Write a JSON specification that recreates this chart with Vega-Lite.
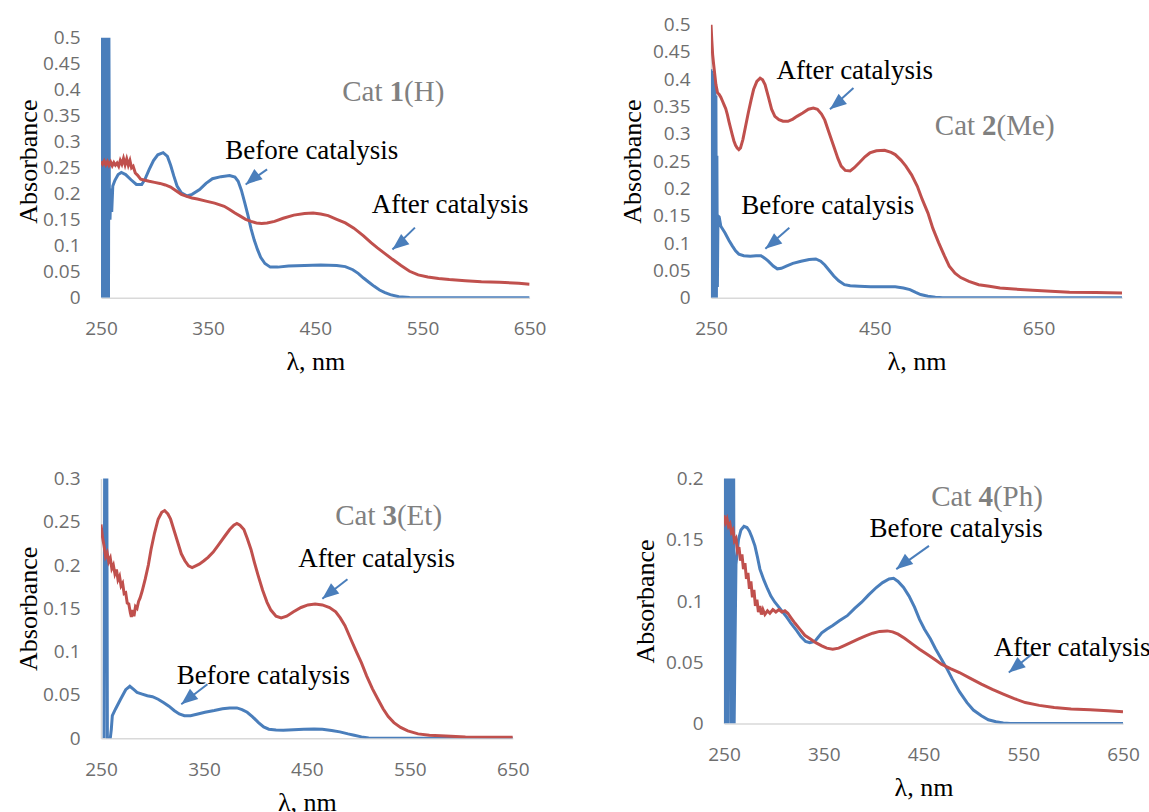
{
"$schema": "https://vega.github.io/schema/vega-lite/v6.json",
"padding": {"left": 15, "top": 15.5, "right": 0, "bottom": 0},
"datasets": {
"spec": [
{"p":1,"s":"B","x":250,"y":0},{"p":1,"s":"B","x":250.5,"y":0.5},{"p":1,"s":"B","x":251,"y":0},{"p":1,"s":"B","x":251.5,"y":0.5},{"p":1,"s":"B","x":252,"y":0},{"p":1,"s":"B","x":252.5,"y":0.5},{"p":1,"s":"B","x":253,"y":0},{"p":1,"s":"B","x":253.5,"y":0.5},{"p":1,"s":"B","x":254,"y":0},{"p":1,"s":"B","x":254.5,"y":0.5},{"p":1,"s":"B","x":255,"y":0},{"p":1,"s":"B","x":255.5,"y":0.5},{"p":1,"s":"B","x":256,"y":0},{"p":1,"s":"B","x":256.5,"y":0.5},{"p":1,"s":"B","x":257,"y":0},{"p":1,"s":"B","x":257.4,"y":0.5},{"p":1,"s":"B","x":257.8,"y":0.2},{"p":1,"s":"B","x":258.4,"y":0.15},{"p":1,"s":"B","x":259.2,"y":0.21},{"p":1,"s":"B","x":260,"y":0.165},{"p":1,"s":"B","x":261,"y":0.215},{"p":1,"s":"B","x":263,"y":0.226},{"p":1,"s":"B","x":266,"y":0.237},{"p":1,"s":"B","x":269,"y":0.241},{"p":1,"s":"B","x":273,"y":0.237},{"p":1,"s":"B","x":278,"y":0.227},{"p":1,"s":"B","x":283,"y":0.218},{"p":1,"s":"B","x":288,"y":0.218},{"p":1,"s":"B","x":291,"y":0.228},{"p":1,"s":"B","x":295,"y":0.247},{"p":1,"s":"B","x":299,"y":0.264},{"p":1,"s":"B","x":303,"y":0.275},{"p":1,"s":"B","x":308,"y":0.279},{"p":1,"s":"B","x":312,"y":0.272},{"p":1,"s":"B","x":315,"y":0.255},{"p":1,"s":"B","x":318,"y":0.234},{"p":1,"s":"B","x":321,"y":0.215},{"p":1,"s":"B","x":325,"y":0.202},{"p":1,"s":"B","x":330,"y":0.196},{"p":1,"s":"B","x":335,"y":0.199},{"p":1,"s":"B","x":342,"y":0.208},{"p":1,"s":"B","x":348,"y":0.22},{"p":1,"s":"B","x":354,"y":0.229},{"p":1,"s":"B","x":362,"y":0.233},{"p":1,"s":"B","x":370,"y":0.235},{"p":1,"s":"B","x":375,"y":0.232},{"p":1,"s":"B","x":378,"y":0.224},{"p":1,"s":"B","x":381,"y":0.207},{"p":1,"s":"B","x":384,"y":0.184},{"p":1,"s":"B","x":387,"y":0.16},{"p":1,"s":"B","x":390,"y":0.133},{"p":1,"s":"B","x":393,"y":0.111},{"p":1,"s":"B","x":396,"y":0.093},{"p":1,"s":"B","x":399,"y":0.078},{"p":1,"s":"B","x":403,"y":0.066},{"p":1,"s":"B","x":408,"y":0.059},{"p":1,"s":"B","x":415,"y":0.059},{"p":1,"s":"B","x":425,"y":0.061},{"p":1,"s":"B","x":440,"y":0.062},{"p":1,"s":"B","x":455,"y":0.063},{"p":1,"s":"B","x":470,"y":0.062},{"p":1,"s":"B","x":478,"y":0.06},{"p":1,"s":"B","x":485,"y":0.054},{"p":1,"s":"B","x":490,"y":0.047},{"p":1,"s":"B","x":495,"y":0.038},{"p":1,"s":"B","x":500,"y":0.03},{"p":1,"s":"B","x":505,"y":0.022},{"p":1,"s":"B","x":510,"y":0.015},{"p":1,"s":"B","x":515,"y":0.01},{"p":1,"s":"B","x":520,"y":0.006},{"p":1,"s":"B","x":528,"y":0.002},{"p":1,"s":"B","x":538,"y":0.0005},{"p":1,"s":"B","x":550,"y":0},{"p":1,"s":"B","x":600,"y":0},{"p":1,"s":"B","x":650,"y":0},
{"p":1,"s":"A","x":250,"y":0.262},{"p":1,"s":"A","x":251.5,"y":0.257},{"p":1,"s":"A","x":253,"y":0.263},{"p":1,"s":"A","x":254.5,"y":0.256},{"p":1,"s":"A","x":256,"y":0.262},{"p":1,"s":"A","x":257.5,"y":0.255},{"p":1,"s":"A","x":259,"y":0.261},{"p":1,"s":"A","x":260.5,"y":0.254},{"p":1,"s":"A","x":262,"y":0.26},{"p":1,"s":"A","x":263.5,"y":0.255},{"p":1,"s":"A","x":265,"y":0.259},{"p":1,"s":"A","x":266.5,"y":0.253},{"p":1,"s":"A","x":268,"y":0.264},{"p":1,"s":"A","x":269.5,"y":0.257},{"p":1,"s":"A","x":271,"y":0.268},{"p":1,"s":"A","x":272.5,"y":0.256},{"p":1,"s":"A","x":274,"y":0.267},{"p":1,"s":"A","x":275.5,"y":0.255},{"p":1,"s":"A","x":277,"y":0.264},{"p":1,"s":"A","x":278.5,"y":0.25},{"p":1,"s":"A","x":280,"y":0.253},{"p":1,"s":"A","x":282,"y":0.24},{"p":1,"s":"A","x":284,"y":0.236},{"p":1,"s":"A","x":287,"y":0.228},{"p":1,"s":"A","x":291,"y":0.226},{"p":1,"s":"A","x":295,"y":0.224},{"p":1,"s":"A","x":300,"y":0.222},{"p":1,"s":"A","x":305,"y":0.22},{"p":1,"s":"A","x":310,"y":0.217},{"p":1,"s":"A","x":315,"y":0.213},{"p":1,"s":"A","x":320,"y":0.206},{"p":1,"s":"A","x":325,"y":0.199},{"p":1,"s":"A","x":330,"y":0.195},{"p":1,"s":"A","x":335,"y":0.192},{"p":1,"s":"A","x":340,"y":0.19},{"p":1,"s":"A","x":348,"y":0.186},{"p":1,"s":"A","x":356,"y":0.182},{"p":1,"s":"A","x":365,"y":0.176},{"p":1,"s":"A","x":370,"y":0.17},{"p":1,"s":"A","x":375,"y":0.163},{"p":1,"s":"A","x":380,"y":0.157},{"p":1,"s":"A","x":385,"y":0.151},{"p":1,"s":"A","x":390,"y":0.147},{"p":1,"s":"A","x":395,"y":0.144},{"p":1,"s":"A","x":400,"y":0.143},{"p":1,"s":"A","x":405,"y":0.144},{"p":1,"s":"A","x":412,"y":0.147},{"p":1,"s":"A","x":420,"y":0.153},{"p":1,"s":"A","x":430,"y":0.159},{"p":1,"s":"A","x":440,"y":0.162},{"p":1,"s":"A","x":448,"y":0.163},{"p":1,"s":"A","x":455,"y":0.161},{"p":1,"s":"A","x":462,"y":0.158},{"p":1,"s":"A","x":470,"y":0.151},{"p":1,"s":"A","x":478,"y":0.144},{"p":1,"s":"A","x":486,"y":0.134},{"p":1,"s":"A","x":495,"y":0.119},{"p":1,"s":"A","x":502,"y":0.106},{"p":1,"s":"A","x":508,"y":0.096},{"p":1,"s":"A","x":515,"y":0.085},{"p":1,"s":"A","x":522,"y":0.074},{"p":1,"s":"A","x":530,"y":0.062},{"p":1,"s":"A","x":538,"y":0.051},{"p":1,"s":"A","x":546,"y":0.044},{"p":1,"s":"A","x":555,"y":0.04},{"p":1,"s":"A","x":565,"y":0.037},{"p":1,"s":"A","x":575,"y":0.035},{"p":1,"s":"A","x":590,"y":0.033},{"p":1,"s":"A","x":605,"y":0.031},{"p":1,"s":"A","x":622,"y":0.03},{"p":1,"s":"A","x":640,"y":0.028},{"p":1,"s":"A","x":650,"y":0.026},
{"p":2,"s":"B","x":250,"y":0.418},{"p":2,"s":"B","x":250.6,"y":0},{"p":2,"s":"B","x":251.2,"y":0.415},{"p":2,"s":"B","x":251.8,"y":0},{"p":2,"s":"B","x":252.4,"y":0.41},{"p":2,"s":"B","x":253,"y":0},{"p":2,"s":"B","x":253.6,"y":0.4},{"p":2,"s":"B","x":254.2,"y":0},{"p":2,"s":"B","x":254.8,"y":0.39},{"p":2,"s":"B","x":255.4,"y":0},{"p":2,"s":"B","x":256,"y":0.37},{"p":2,"s":"B","x":256.6,"y":0},{"p":2,"s":"B","x":257.2,"y":0.26},{"p":2,"s":"B","x":257.8,"y":0.02},{"p":2,"s":"B","x":258.5,"y":0.15},{"p":2,"s":"B","x":260,"y":0.148},{"p":2,"s":"B","x":262,"y":0.131},{"p":2,"s":"B","x":267,"y":0.119},{"p":2,"s":"B","x":272,"y":0.105},{"p":2,"s":"B","x":276,"y":0.095},{"p":2,"s":"B","x":280,"y":0.086},{"p":2,"s":"B","x":284,"y":0.08},{"p":2,"s":"B","x":290,"y":0.077},{"p":2,"s":"B","x":298,"y":0.076},{"p":2,"s":"B","x":305,"y":0.077},{"p":2,"s":"B","x":311,"y":0.077},{"p":2,"s":"B","x":316,"y":0.072},{"p":2,"s":"B","x":320,"y":0.067},{"p":2,"s":"B","x":326,"y":0.058},{"p":2,"s":"B","x":331,"y":0.053},{"p":2,"s":"B","x":336,"y":0.054},{"p":2,"s":"B","x":342,"y":0.058},{"p":2,"s":"B","x":350,"y":0.063},{"p":2,"s":"B","x":360,"y":0.067},{"p":2,"s":"B","x":370,"y":0.07},{"p":2,"s":"B","x":378,"y":0.071},{"p":2,"s":"B","x":384,"y":0.067},{"p":2,"s":"B","x":389,"y":0.06},{"p":2,"s":"B","x":395,"y":0.049},{"p":2,"s":"B","x":400,"y":0.04},{"p":2,"s":"B","x":406,"y":0.031},{"p":2,"s":"B","x":413,"y":0.024},{"p":2,"s":"B","x":420,"y":0.022},{"p":2,"s":"B","x":431,"y":0.021},{"p":2,"s":"B","x":445,"y":0.02},{"p":2,"s":"B","x":460,"y":0.02},{"p":2,"s":"B","x":475,"y":0.02},{"p":2,"s":"B","x":485,"y":0.018},{"p":2,"s":"B","x":493,"y":0.015},{"p":2,"s":"B","x":500,"y":0.01},{"p":2,"s":"B","x":506,"y":0.006},{"p":2,"s":"B","x":515,"y":0.003},{"p":2,"s":"B","x":524,"y":0.001},{"p":2,"s":"B","x":533,"y":0},{"p":2,"s":"B","x":600,"y":0},{"p":2,"s":"B","x":700,"y":0},{"p":2,"s":"B","x":752,"y":0},
{"p":2,"s":"A","x":250,"y":0.5},{"p":2,"s":"A","x":251,"y":0.47},{"p":2,"s":"A","x":252,"y":0.445},{"p":2,"s":"A","x":253,"y":0.43},{"p":2,"s":"A","x":254.5,"y":0.41},{"p":2,"s":"A","x":256,"y":0.39},{"p":2,"s":"A","x":258,"y":0.375},{"p":2,"s":"A","x":260,"y":0.372},{"p":2,"s":"A","x":262,"y":0.367},{"p":2,"s":"A","x":264,"y":0.36},{"p":2,"s":"A","x":266,"y":0.353},{"p":2,"s":"A","x":268,"y":0.346},{"p":2,"s":"A","x":270,"y":0.335},{"p":2,"s":"A","x":272,"y":0.322},{"p":2,"s":"A","x":274,"y":0.31},{"p":2,"s":"A","x":276,"y":0.298},{"p":2,"s":"A","x":278,"y":0.287},{"p":2,"s":"A","x":280,"y":0.279},{"p":2,"s":"A","x":282,"y":0.274},{"p":2,"s":"A","x":284,"y":0.271},{"p":2,"s":"A","x":286,"y":0.274},{"p":2,"s":"A","x":289,"y":0.29},{"p":2,"s":"A","x":292,"y":0.312},{"p":2,"s":"A","x":295.5,"y":0.338},{"p":2,"s":"A","x":299,"y":0.362},{"p":2,"s":"A","x":302,"y":0.381},{"p":2,"s":"A","x":306,"y":0.396},{"p":2,"s":"A","x":310,"y":0.402},{"p":2,"s":"A","x":313,"y":0.399},{"p":2,"s":"A","x":316,"y":0.39},{"p":2,"s":"A","x":320,"y":0.368},{"p":2,"s":"A","x":324,"y":0.345},{"p":2,"s":"A","x":328,"y":0.332},{"p":2,"s":"A","x":333,"y":0.326},{"p":2,"s":"A","x":338,"y":0.323},{"p":2,"s":"A","x":344,"y":0.323},{"p":2,"s":"A","x":350,"y":0.327},{"p":2,"s":"A","x":355,"y":0.332},{"p":2,"s":"A","x":362,"y":0.338},{"p":2,"s":"A","x":369,"y":0.345},{"p":2,"s":"A","x":375,"y":0.347},{"p":2,"s":"A","x":380,"y":0.345},{"p":2,"s":"A","x":385,"y":0.336},{"p":2,"s":"A","x":389,"y":0.325},{"p":2,"s":"A","x":394,"y":0.303},{"p":2,"s":"A","x":400,"y":0.277},{"p":2,"s":"A","x":405,"y":0.255},{"p":2,"s":"A","x":409,"y":0.241},{"p":2,"s":"A","x":414,"y":0.233},{"p":2,"s":"A","x":420,"y":0.232},{"p":2,"s":"A","x":425,"y":0.238},{"p":2,"s":"A","x":431,"y":0.247},{"p":2,"s":"A","x":438,"y":0.258},{"p":2,"s":"A","x":444,"y":0.265},{"p":2,"s":"A","x":452,"y":0.269},{"p":2,"s":"A","x":462,"y":0.27},{"p":2,"s":"A","x":470,"y":0.266},{"p":2,"s":"A","x":475,"y":0.262},{"p":2,"s":"A","x":482,"y":0.252},{"p":2,"s":"A","x":488,"y":0.241},{"p":2,"s":"A","x":495,"y":0.225},{"p":2,"s":"A","x":502,"y":0.204},{"p":2,"s":"A","x":508,"y":0.18},{"p":2,"s":"A","x":515,"y":0.155},{"p":2,"s":"A","x":521,"y":0.127},{"p":2,"s":"A","x":528,"y":0.101},{"p":2,"s":"A","x":535,"y":0.077},{"p":2,"s":"A","x":541,"y":0.058},{"p":2,"s":"A","x":548,"y":0.045},{"p":2,"s":"A","x":555,"y":0.037},{"p":2,"s":"A","x":565,"y":0.03},{"p":2,"s":"A","x":577,"y":0.024},{"p":2,"s":"A","x":590,"y":0.021},{"p":2,"s":"A","x":603,"y":0.018},{"p":2,"s":"A","x":620,"y":0.016},{"p":2,"s":"A","x":643,"y":0.014},{"p":2,"s":"A","x":665,"y":0.012},{"p":2,"s":"A","x":688,"y":0.01},{"p":2,"s":"A","x":720,"y":0.0095},{"p":2,"s":"A","x":752,"y":0.009},
{"p":3,"s":"B","x":253,"y":0},{"p":3,"s":"B","x":253.6,"y":0.35},{"p":3,"s":"B","x":255.6,"y":0.35},{"p":3,"s":"B","x":256.2,"y":0},{"p":3,"s":"B","x":259,"y":0},{"p":3,"s":"B","x":260,"y":0.01},{"p":3,"s":"B","x":261,"y":0.026},{"p":3,"s":"B","x":264,"y":0.0335},{"p":3,"s":"B","x":269,"y":0.045},{"p":3,"s":"B","x":274,"y":0.056},{"p":3,"s":"B","x":278,"y":0.06},{"p":3,"s":"B","x":282,"y":0.056},{"p":3,"s":"B","x":285,"y":0.053},{"p":3,"s":"B","x":290,"y":0.051},{"p":3,"s":"B","x":295,"y":0.049},{"p":3,"s":"B","x":300,"y":0.048},{"p":3,"s":"B","x":305.5,"y":0.045},{"p":3,"s":"B","x":311,"y":0.041},{"p":3,"s":"B","x":316,"y":0.037},{"p":3,"s":"B","x":321,"y":0.032},{"p":3,"s":"B","x":326,"y":0.028},{"p":3,"s":"B","x":331,"y":0.026},{"p":3,"s":"B","x":337,"y":0.026},{"p":3,"s":"B","x":344,"y":0.028},{"p":3,"s":"B","x":351,"y":0.03},{"p":3,"s":"B","x":360,"y":0.032},{"p":3,"s":"B","x":368,"y":0.034},{"p":3,"s":"B","x":375,"y":0.035},{"p":3,"s":"B","x":382,"y":0.035},{"p":3,"s":"B","x":387,"y":0.033},{"p":3,"s":"B","x":392,"y":0.03},{"p":3,"s":"B","x":397,"y":0.025},{"p":3,"s":"B","x":403,"y":0.018},{"p":3,"s":"B","x":408,"y":0.013},{"p":3,"s":"B","x":413,"y":0.0104},{"p":3,"s":"B","x":420,"y":0.0095},{"p":3,"s":"B","x":427,"y":0.0092},{"p":3,"s":"B","x":437,"y":0.0098},{"p":3,"s":"B","x":447,"y":0.0104},{"p":3,"s":"B","x":457,"y":0.0106},{"p":3,"s":"B","x":465,"y":0.0104},{"p":3,"s":"B","x":474,"y":0.009},{"p":3,"s":"B","x":482,"y":0.0073},{"p":3,"s":"B","x":490,"y":0.005},{"p":3,"s":"B","x":496,"y":0.0035},{"p":3,"s":"B","x":503,"y":0.0015},{"p":3,"s":"B","x":510,"y":0.0002},{"p":3,"s":"B","x":520,"y":0},{"p":3,"s":"B","x":580,"y":0},{"p":3,"s":"B","x":650,"y":0},
{"p":3,"s":"A","x":250,"y":0.247},{"p":3,"s":"A","x":251.5,"y":0.232},{"p":3,"s":"A","x":253,"y":0.222},{"p":3,"s":"A","x":254.5,"y":0.21},{"p":3,"s":"A","x":256,"y":0.214},{"p":3,"s":"A","x":257.5,"y":0.204},{"p":3,"s":"A","x":259,"y":0.208},{"p":3,"s":"A","x":260.5,"y":0.196},{"p":3,"s":"A","x":262,"y":0.2},{"p":3,"s":"A","x":263.5,"y":0.19},{"p":3,"s":"A","x":265,"y":0.195},{"p":3,"s":"A","x":266.5,"y":0.183},{"p":3,"s":"A","x":268,"y":0.187},{"p":3,"s":"A","x":269.5,"y":0.176},{"p":3,"s":"A","x":271,"y":0.179},{"p":3,"s":"A","x":272.5,"y":0.167},{"p":3,"s":"A","x":274,"y":0.168},{"p":3,"s":"A","x":275.5,"y":0.156},{"p":3,"s":"A","x":277,"y":0.155},{"p":3,"s":"A","x":278.5,"y":0.145},{"p":3,"s":"A","x":279.5,"y":0.14},{"p":3,"s":"A","x":280.5,"y":0.148},{"p":3,"s":"A","x":282,"y":0.141},{"p":3,"s":"A","x":283.5,"y":0.152},{"p":3,"s":"A","x":285,"y":0.15},{"p":3,"s":"A","x":286.5,"y":0.158},{"p":3,"s":"A","x":288,"y":0.162},{"p":3,"s":"A","x":290,"y":0.17},{"p":3,"s":"A","x":293,"y":0.184},{"p":3,"s":"A","x":296,"y":0.2},{"p":3,"s":"A","x":298.6,"y":0.218},{"p":3,"s":"A","x":302,"y":0.237},{"p":3,"s":"A","x":305.5,"y":0.253},{"p":3,"s":"A","x":309,"y":0.261},{"p":3,"s":"A","x":311.8,"y":0.263},{"p":3,"s":"A","x":315,"y":0.259},{"p":3,"s":"A","x":317.6,"y":0.253},{"p":3,"s":"A","x":321,"y":0.24},{"p":3,"s":"A","x":324.6,"y":0.226},{"p":3,"s":"A","x":328,"y":0.213},{"p":3,"s":"A","x":331.5,"y":0.205},{"p":3,"s":"A","x":335,"y":0.199},{"p":3,"s":"A","x":338.5,"y":0.197},{"p":3,"s":"A","x":342,"y":0.199},{"p":3,"s":"A","x":345.4,"y":0.201},{"p":3,"s":"A","x":350,"y":0.205},{"p":3,"s":"A","x":354,"y":0.209},{"p":3,"s":"A","x":359,"y":0.215},{"p":3,"s":"A","x":364.5,"y":0.224},{"p":3,"s":"A","x":370,"y":0.233},{"p":3,"s":"A","x":375,"y":0.241},{"p":3,"s":"A","x":379,"y":0.246},{"p":3,"s":"A","x":382,"y":0.248},{"p":3,"s":"A","x":385,"y":0.246},{"p":3,"s":"A","x":388.8,"y":0.241},{"p":3,"s":"A","x":392,"y":0.231},{"p":3,"s":"A","x":395.7,"y":0.218},{"p":3,"s":"A","x":399,"y":0.203},{"p":3,"s":"A","x":402.6,"y":0.188},{"p":3,"s":"A","x":407,"y":0.171},{"p":3,"s":"A","x":411.3,"y":0.157},{"p":3,"s":"A","x":415,"y":0.148},{"p":3,"s":"A","x":420,"y":0.141},{"p":3,"s":"A","x":425,"y":0.139},{"p":3,"s":"A","x":430.4,"y":0.141},{"p":3,"s":"A","x":437,"y":0.146},{"p":3,"s":"A","x":444.3,"y":0.151},{"p":3,"s":"A","x":451,"y":0.154},{"p":3,"s":"A","x":458,"y":0.155},{"p":3,"s":"A","x":465,"y":0.154},{"p":3,"s":"A","x":472,"y":0.151},{"p":3,"s":"A","x":478,"y":0.146},{"p":3,"s":"A","x":482.4,"y":0.139},{"p":3,"s":"A","x":487,"y":0.13},{"p":3,"s":"A","x":492.8,"y":0.114},{"p":3,"s":"A","x":498,"y":0.1},{"p":3,"s":"A","x":503,"y":0.087},{"p":3,"s":"A","x":508,"y":0.072},{"p":3,"s":"A","x":513.7,"y":0.057},{"p":3,"s":"A","x":519,"y":0.045},{"p":3,"s":"A","x":524,"y":0.034},{"p":3,"s":"A","x":529,"y":0.025},{"p":3,"s":"A","x":534.5,"y":0.018},{"p":3,"s":"A","x":541,"y":0.0125},{"p":3,"s":"A","x":548,"y":0.0085},{"p":3,"s":"A","x":558,"y":0.005},{"p":3,"s":"A","x":569,"y":0.0035},{"p":3,"s":"A","x":585,"y":0.0025},{"p":3,"s":"A","x":604,"y":0.0015},{"p":3,"s":"A","x":625,"y":0.001},{"p":3,"s":"A","x":650,"y":0.001},
{"p":4,"s":"B","x":250,"y":0.25},{"p":4,"s":"B","x":250.8,"y":0},{"p":4,"s":"B","x":251.6,"y":0.25},{"p":4,"s":"B","x":252.4,"y":0},{"p":4,"s":"B","x":253.2,"y":0.25},{"p":4,"s":"B","x":254,"y":0},{"p":4,"s":"B","x":254.8,"y":0.25},{"p":4,"s":"B","x":255.6,"y":0.036},{"p":4,"s":"B","x":256.4,"y":0.25},{"p":4,"s":"B","x":257.2,"y":0},{"p":4,"s":"B","x":258,"y":0.25},{"p":4,"s":"B","x":258.8,"y":0},{"p":4,"s":"B","x":259.6,"y":0.25},{"p":4,"s":"B","x":260.2,"y":0},{"p":4,"s":"B","x":261,"y":0.06},{"p":4,"s":"B","x":262,"y":0.13},{"p":4,"s":"B","x":264.5,"y":0.15},{"p":4,"s":"B","x":267,"y":0.158},{"p":4,"s":"B","x":270,"y":0.161},{"p":4,"s":"B","x":273,"y":0.16},{"p":4,"s":"B","x":275.5,"y":0.157},{"p":4,"s":"B","x":278,"y":0.152},{"p":4,"s":"B","x":281,"y":0.145},{"p":4,"s":"B","x":283.5,"y":0.136},{"p":4,"s":"B","x":286,"y":0.126},{"p":4,"s":"B","x":290,"y":0.117},{"p":4,"s":"B","x":293.6,"y":0.11},{"p":4,"s":"B","x":297,"y":0.104},{"p":4,"s":"B","x":301,"y":0.099},{"p":4,"s":"B","x":306,"y":0.094},{"p":4,"s":"B","x":311.8,"y":0.088},{"p":4,"s":"B","x":317,"y":0.082},{"p":4,"s":"B","x":322.7,"y":0.076},{"p":4,"s":"B","x":327,"y":0.071},{"p":4,"s":"B","x":331.8,"y":0.067},{"p":4,"s":"B","x":336,"y":0.066},{"p":4,"s":"B","x":341,"y":0.067},{"p":4,"s":"B","x":344,"y":0.07},{"p":4,"s":"B","x":348,"y":0.074},{"p":4,"s":"B","x":353,"y":0.077},{"p":4,"s":"B","x":359,"y":0.08},{"p":4,"s":"B","x":366,"y":0.084},{"p":4,"s":"B","x":373.6,"y":0.088},{"p":4,"s":"B","x":381,"y":0.094},{"p":4,"s":"B","x":388,"y":0.099},{"p":4,"s":"B","x":395,"y":0.105},{"p":4,"s":"B","x":402.7,"y":0.111},{"p":4,"s":"B","x":409,"y":0.115},{"p":4,"s":"B","x":415.5,"y":0.118},{"p":4,"s":"B","x":420,"y":0.1185},{"p":4,"s":"B","x":424.5,"y":0.116},{"p":4,"s":"B","x":430,"y":0.111},{"p":4,"s":"B","x":435.5,"y":0.104},{"p":4,"s":"B","x":441,"y":0.095},{"p":4,"s":"B","x":446,"y":0.085},{"p":4,"s":"B","x":451,"y":0.077},{"p":4,"s":"B","x":457,"y":0.069},{"p":4,"s":"B","x":462,"y":0.061},{"p":4,"s":"B","x":468,"y":0.0525},{"p":4,"s":"B","x":474,"y":0.044},{"p":4,"s":"B","x":479,"y":0.036},{"p":4,"s":"B","x":486,"y":0.026},{"p":4,"s":"B","x":493.6,"y":0.017},{"p":4,"s":"B","x":500,"y":0.011},{"p":4,"s":"B","x":508,"y":0.0063},{"p":4,"s":"B","x":515,"y":0.003},{"p":4,"s":"B","x":522.7,"y":0.0014},{"p":4,"s":"B","x":530,"y":0.0005},{"p":4,"s":"B","x":537,"y":0},{"p":4,"s":"B","x":600,"y":0},{"p":4,"s":"B","x":650,"y":0},
{"p":4,"s":"A","x":250,"y":0.17},{"p":4,"s":"A","x":251.5,"y":0.164},{"p":4,"s":"A","x":253,"y":0.167},{"p":4,"s":"A","x":254.5,"y":0.161},{"p":4,"s":"A","x":256,"y":0.163},{"p":4,"s":"A","x":257.5,"y":0.156},{"p":4,"s":"A","x":259,"y":0.158},{"p":4,"s":"A","x":260.5,"y":0.149},{"p":4,"s":"A","x":262,"y":0.151},{"p":4,"s":"A","x":263.5,"y":0.141},{"p":4,"s":"A","x":265,"y":0.144},{"p":4,"s":"A","x":266.5,"y":0.133},{"p":4,"s":"A","x":268,"y":0.138},{"p":4,"s":"A","x":269.5,"y":0.126},{"p":4,"s":"A","x":271,"y":0.131},{"p":4,"s":"A","x":272.5,"y":0.118},{"p":4,"s":"A","x":274,"y":0.123},{"p":4,"s":"A","x":275.5,"y":0.11},{"p":4,"s":"A","x":277,"y":0.116},{"p":4,"s":"A","x":278.5,"y":0.103},{"p":4,"s":"A","x":280,"y":0.109},{"p":4,"s":"A","x":281.5,"y":0.096},{"p":4,"s":"A","x":283,"y":0.101},{"p":4,"s":"A","x":284.5,"y":0.091},{"p":4,"s":"A","x":286,"y":0.096},{"p":4,"s":"A","x":287.5,"y":0.089},{"p":4,"s":"A","x":289,"y":0.093},{"p":4,"s":"A","x":291,"y":0.089},{"p":4,"s":"A","x":293.6,"y":0.092},{"p":4,"s":"A","x":296,"y":0.09},{"p":4,"s":"A","x":299,"y":0.093},{"p":4,"s":"A","x":302,"y":0.091},{"p":4,"s":"A","x":305,"y":0.093},{"p":4,"s":"A","x":308,"y":0.091},{"p":4,"s":"A","x":311,"y":0.092},{"p":4,"s":"A","x":314,"y":0.09},{"p":4,"s":"A","x":317,"y":0.0865},{"p":4,"s":"A","x":321,"y":0.082},{"p":4,"s":"A","x":326,"y":0.077},{"p":4,"s":"A","x":331,"y":0.072},{"p":4,"s":"A","x":337,"y":0.0688},{"p":4,"s":"A","x":342,"y":0.066},{"p":4,"s":"A","x":348,"y":0.0634},{"p":4,"s":"A","x":353,"y":0.0615},{"p":4,"s":"A","x":359,"y":0.0607},{"p":4,"s":"A","x":365,"y":0.0615},{"p":4,"s":"A","x":370,"y":0.0634},{"p":4,"s":"A","x":377,"y":0.066},{"p":4,"s":"A","x":384.5,"y":0.0688},{"p":4,"s":"A","x":392,"y":0.0715},{"p":4,"s":"A","x":399,"y":0.0737},{"p":4,"s":"A","x":406,"y":0.0752},{"p":4,"s":"A","x":413.6,"y":0.0756},{"p":4,"s":"A","x":419,"y":0.0748},{"p":4,"s":"A","x":424.5,"y":0.0729},{"p":4,"s":"A","x":431,"y":0.0695},{"p":4,"s":"A","x":439,"y":0.0648},{"p":4,"s":"A","x":446,"y":0.0607},{"p":4,"s":"A","x":453.6,"y":0.0566},{"p":4,"s":"A","x":461,"y":0.0524},{"p":4,"s":"A","x":468,"y":0.0484},{"p":4,"s":"A","x":477,"y":0.0448},{"p":4,"s":"A","x":486,"y":0.0416},{"p":4,"s":"A","x":497,"y":0.0368},{"p":4,"s":"A","x":508,"y":0.0321},{"p":4,"s":"A","x":519,"y":0.0279},{"p":4,"s":"A","x":530,"y":0.024},{"p":4,"s":"A","x":541,"y":0.0203},{"p":4,"s":"A","x":552,"y":0.0171},{"p":4,"s":"A","x":566,"y":0.0148},{"p":4,"s":"A","x":581,"y":0.013},{"p":4,"s":"A","x":598,"y":0.0119},{"p":4,"s":"A","x":617,"y":0.0112},{"p":4,"s":"A","x":635,"y":0.0104},{"p":4,"s":"A","x":650,"y":0.0095}
],
"notes": [
{"p":1,"t":"Before catalysis","x":446.7,"y":0.282},{"p":1,"t":"After catalysis","x":575.8,"y":0.178},
{"p":2,"t":"After catalysis","x":425.6,"y":0.415},{"p":2,"t":"Before catalysis","x":392.6,"y":0.168},
{"p":3,"t":"After catalysis","x":517.7,"y":0.2075},{"p":3,"t":"Before catalysis","x":407.8,"y":0.072},
{"p":4,"t":"Before catalysis","x":482.7,"y":0.1586},{"p":4,"t":"After catalysis","x":599,"y":0.062}
],
"arrows": [
{"p":1,"x":405,"y":0.247,"x2":385,"y2":0.218},{"p":1,"x":543,"y":0.135,"x2":522,"y2":0.093},
{"p":2,"x":424,"y":0.384,"x2":395.3,"y2":0.345},{"p":2,"x":345.7,"y":0.128,"x2":316.4,"y2":0.0896},
{"p":3,"x":489.4,"y":0.1837,"x2":465,"y2":0.161},{"p":3,"x":353.4,"y":0.0624,"x2":328,"y2":0.0393},
{"p":4,"x":455.5,"y":0.145,"x2":422.7,"y2":0.126},{"p":4,"x":560.9,"y":0.058,"x2":535.5,"y2":0.0416}
],
"cats": [
{"p":1,"x":519.3,"y":0.396,"pre":"Cat","num":"1","post":"(H)"},
{"p":2,"x":581.1,"y":0.314,"pre":"Cat","num":"2","post":"(Me)"},
{"p":3,"x":523.4,"y":0.257,"pre":"Cat","num":"3","post":"(Et)"},
{"p":4,"x":505.1,"y":0.185,"pre":"Cat","num":"4","post":"(Ph)"}
]
},
"spacing": 94,
"vconcat": [
{"spacing": 73, "hconcat": [
{"width": 428.6, "height": 273.3,
 "encoding": {
  "x": {"field": "x", "type": "quantitative", "scale": {"domain": [250, 650], "nice": false, "zero": false}, "axis": {"title": "λ, nm", "values": [250, 350, 450, 550, 650], "format": "d"}},
  "y": {"field": "y", "type": "quantitative", "scale": {"domain": [0, 0.5256], "nice": false}, "axis": {"title": "Absorbance", "values": [0, 0.05, 0.1, 0.15, 0.2, 0.25, 0.3, 0.35, 0.4, 0.45, 0.5], "format": ".2~f", "titlePadding": 1, "domain": false}}
 },
 "layer": [
  {"data": {"name": "spec"}, "transform": [{"filter": "datum.p == 1"}], "mark": {"type": "line", "clip": true, "strokeWidth": 3}, "encoding": {"color": {"field": "s", "type": "nominal", "scale": {"domain": ["B", "A"], "range": ["#4a7ebb", "#c0504d"]}, "legend": null}}},
  {"data": {"name": "arrows"}, "transform": [{"filter": "datum.p == 1"}], "mark": {"type": "rule", "color": "#4a7ebb", "strokeWidth": 2}, "encoding": {"x2": {"field": "x2"}, "y2": {"field": "y2"}}},
  {"data": {"name": "arrows"}, "transform": [{"filter": "datum.p == 1"}], "mark": {"type": "point", "shape": "M0,0L0.6,1.5L-0.6,1.5Z", "angle": 231, "size": 484, "filled": true, "color": "#4a7ebb", "opacity": 1}, "encoding": {"x": {"field": "x2", "type": "quantitative", "axis": {"title": "λ, nm", "values": [250, 350, 450, 550, 650], "format": "d"}}, "y": {"field": "y2", "type": "quantitative", "axis": {"title": "Absorbance", "values": [0, 0.05, 0.1, 0.15, 0.2, 0.25, 0.3, 0.35, 0.4, 0.45, 0.5], "format": ".2~f", "titlePadding": 1, "domain": false}}}},
  {"data": {"name": "notes"}, "transform": [{"filter": "datum.p == 1"}], "mark": {"type": "text", "font": "Liberation Serif", "fontSize": 27, "color": "#000000"}, "encoding": {"text": {"field": "t"}}},
  {"data": {"name": "cats"}, "transform": [{"filter": "datum.p == 1"}], "mark": {"type": "text", "font": "Liberation Serif", "fontSize": 29, "color": "#808080", "align": "right", "dx": -7}, "encoding": {"text": {"field": "pre"}}},
  {"data": {"name": "cats"}, "transform": [{"filter": "datum.p == 1"}], "mark": {"type": "text", "font": "Liberation Serif", "fontSize": 29, "fontWeight": "bold", "color": "#808080", "align": "left"}, "encoding": {"text": {"field": "num"}}},
  {"data": {"name": "cats"}, "transform": [{"filter": "datum.p == 1"}], "mark": {"type": "text", "font": "Liberation Serif", "fontSize": 29, "color": "#808080", "align": "left", "dx": 14.5}, "encoding": {"text": {"field": "post"}}}
 ]
},
{"width": 411, "height": 273.3,
 "encoding": {
  "x": {"field": "x", "type": "quantitative", "scale": {"domain": [250, 752], "nice": false, "zero": false}, "axis": {"title": "λ, nm", "values": [250, 450, 650], "format": "d"}},
  "y": {"field": "y", "type": "quantitative", "scale": {"domain": [0, 0.5], "nice": false}, "axis": {"title": "Absorbance", "values": [0, 0.05, 0.1, 0.15, 0.2, 0.25, 0.3, 0.35, 0.4, 0.45, 0.5], "format": ".2~f"}}
 },
 "layer": [
  {"data": {"name": "spec"}, "transform": [{"filter": "datum.p == 2"}], "mark": {"type": "line", "clip": true, "strokeWidth": 3}, "encoding": {"color": {"field": "s", "type": "nominal", "scale": {"domain": ["B", "A"], "range": ["#4a7ebb", "#c0504d"]}, "legend": null}}},
  {"data": {"name": "arrows"}, "transform": [{"filter": "datum.p == 2"}], "mark": {"type": "rule", "color": "#4a7ebb", "strokeWidth": 2}, "encoding": {"x2": {"field": "x2"}, "y2": {"field": "y2"}}},
  {"data": {"name": "arrows"}, "transform": [{"filter": "datum.p == 2"}], "mark": {"type": "point", "shape": "M0,0L0.6,1.5L-0.6,1.5Z", "angle": 231, "size": 484, "filled": true, "color": "#4a7ebb", "opacity": 1}, "encoding": {"x": {"field": "x2", "type": "quantitative", "axis": {"title": "λ, nm", "values": [250, 450, 650], "format": "d"}}, "y": {"field": "y2", "type": "quantitative", "axis": {"title": "Absorbance", "values": [0, 0.05, 0.1, 0.15, 0.2, 0.25, 0.3, 0.35, 0.4, 0.45, 0.5], "format": ".2~f"}}}},
  {"data": {"name": "notes"}, "transform": [{"filter": "datum.p == 2"}], "mark": {"type": "text", "font": "Liberation Serif", "fontSize": 27, "color": "#000000"}, "encoding": {"text": {"field": "t"}}},
  {"data": {"name": "cats"}, "transform": [{"filter": "datum.p == 2"}], "mark": {"type": "text", "font": "Liberation Serif", "fontSize": 29, "color": "#808080", "align": "right", "dx": -7}, "encoding": {"text": {"field": "pre"}}},
  {"data": {"name": "cats"}, "transform": [{"filter": "datum.p == 2"}], "mark": {"type": "text", "font": "Liberation Serif", "fontSize": 29, "fontWeight": "bold", "color": "#808080", "align": "left"}, "encoding": {"text": {"field": "num"}}},
  {"data": {"name": "cats"}, "transform": [{"filter": "datum.p == 2"}], "mark": {"type": "text", "font": "Liberation Serif", "fontSize": 29, "color": "#808080", "align": "left", "dx": 14.5}, "encoding": {"text": {"field": "post"}}}
 ]
}
]},
{"spacing": 102, "hconcat": [
{"width": 411.8, "height": 259.7,
 "encoding": {
  "x": {"field": "x", "type": "quantitative", "scale": {"domain": [250, 650], "nice": false, "zero": false}, "axis": {"title": "λ, nm", "values": [250, 350, 450, 550, 650], "format": "d"}},
  "y": {"field": "y", "type": "quantitative", "scale": {"domain": [0, 0.3], "nice": false}, "axis": {"title": "Absorbance", "values": [0, 0.05, 0.1, 0.15, 0.2, 0.25, 0.3], "format": ".2~f", "titlePadding": 1}}
 },
 "layer": [
  {"data": {"name": "spec"}, "transform": [{"filter": "datum.p == 3"}], "mark": {"type": "line", "clip": true, "strokeWidth": 3}, "encoding": {"color": {"field": "s", "type": "nominal", "scale": {"domain": ["B", "A"], "range": ["#4a7ebb", "#c0504d"]}, "legend": null}}},
  {"data": {"name": "arrows"}, "transform": [{"filter": "datum.p == 3"}], "mark": {"type": "rule", "color": "#4a7ebb", "strokeWidth": 2}, "encoding": {"x2": {"field": "x2"}, "y2": {"field": "y2"}}},
  {"data": {"name": "arrows"}, "transform": [{"filter": "datum.p == 3"}], "mark": {"type": "point", "shape": "M0,0L0.6,1.5L-0.6,1.5Z", "angle": 231, "size": 484, "filled": true, "color": "#4a7ebb", "opacity": 1}, "encoding": {"x": {"field": "x2", "type": "quantitative", "axis": {"title": "λ, nm", "values": [250, 350, 450, 550, 650], "format": "d"}}, "y": {"field": "y2", "type": "quantitative", "axis": {"title": "Absorbance", "values": [0, 0.05, 0.1, 0.15, 0.2, 0.25, 0.3], "format": ".2~f", "titlePadding": 1}}}},
  {"data": {"name": "notes"}, "transform": [{"filter": "datum.p == 3"}], "mark": {"type": "text", "font": "Liberation Serif", "fontSize": 27, "color": "#000000"}, "encoding": {"text": {"field": "t"}}},
  {"data": {"name": "cats"}, "transform": [{"filter": "datum.p == 3"}], "mark": {"type": "text", "font": "Liberation Serif", "fontSize": 29, "color": "#808080", "align": "right", "dx": -7}, "encoding": {"text": {"field": "pre"}}},
  {"data": {"name": "cats"}, "transform": [{"filter": "datum.p == 3"}], "mark": {"type": "text", "font": "Liberation Serif", "fontSize": 29, "fontWeight": "bold", "color": "#808080", "align": "left"}, "encoding": {"text": {"field": "num"}}},
  {"data": {"name": "cats"}, "transform": [{"filter": "datum.p == 3"}], "mark": {"type": "text", "font": "Liberation Serif", "fontSize": 29, "color": "#808080", "align": "left", "dx": 14.5}, "encoding": {"text": {"field": "post"}}}
 ]
},
{"width": 399, "height": 245,
 "encoding": {
  "x": {"field": "x", "type": "quantitative", "scale": {"domain": [250, 650], "nice": false, "zero": false}, "axis": {"title": "λ, nm", "values": [250, 350, 450, 550, 650], "format": "d"}},
  "y": {"field": "y", "type": "quantitative", "scale": {"domain": [0, 0.2], "nice": false}, "axis": {"title": "Absorbance", "values": [0, 0.05, 0.1, 0.15, 0.2], "format": ".2~f"}}
 },
 "layer": [
  {"data": {"name": "spec"}, "transform": [{"filter": "datum.p == 4"}], "mark": {"type": "line", "clip": true, "strokeWidth": 3}, "encoding": {"color": {"field": "s", "type": "nominal", "scale": {"domain": ["B", "A"], "range": ["#4a7ebb", "#c0504d"]}, "legend": null}}},
  {"data": {"name": "arrows"}, "transform": [{"filter": "datum.p == 4"}], "mark": {"type": "rule", "color": "#4a7ebb", "strokeWidth": 2}, "encoding": {"x2": {"field": "x2"}, "y2": {"field": "y2"}}},
  {"data": {"name": "arrows"}, "transform": [{"filter": "datum.p == 4"}], "mark": {"type": "point", "shape": "M0,0L0.6,1.5L-0.6,1.5Z", "angle": 231, "size": 484, "filled": true, "color": "#4a7ebb", "opacity": 1}, "encoding": {"x": {"field": "x2", "type": "quantitative", "axis": {"title": "λ, nm", "values": [250, 350, 450, 550, 650], "format": "d"}}, "y": {"field": "y2", "type": "quantitative", "axis": {"title": "Absorbance", "values": [0, 0.05, 0.1, 0.15, 0.2], "format": ".2~f"}}}},
  {"data": {"name": "notes"}, "transform": [{"filter": "datum.p == 4"}], "mark": {"type": "text", "font": "Liberation Serif", "fontSize": 27, "color": "#000000"}, "encoding": {"text": {"field": "t"}}},
  {"data": {"name": "cats"}, "transform": [{"filter": "datum.p == 4"}], "mark": {"type": "text", "font": "Liberation Serif", "fontSize": 29, "color": "#808080", "align": "right", "dx": -7}, "encoding": {"text": {"field": "pre"}}},
  {"data": {"name": "cats"}, "transform": [{"filter": "datum.p == 4"}], "mark": {"type": "text", "font": "Liberation Serif", "fontSize": 29, "fontWeight": "bold", "color": "#808080", "align": "left"}, "encoding": {"text": {"field": "num"}}},
  {"data": {"name": "cats"}, "transform": [{"filter": "datum.p == 4"}], "mark": {"type": "text", "font": "Liberation Serif", "fontSize": 29, "color": "#808080", "align": "left", "dx": 14.5}, "encoding": {"text": {"field": "post"}}}
 ]
}
]}
],
"config": {
 "background": "#ffffff",
 "view": {"stroke": null},
 "axis": {"labelFont": "Open Sans", "labelFontSize": 19, "labelColor": "#6e6e6e", "titleFont": "Liberation Serif", "titleFontSize": 26, "titleFontWeight": "normal", "titleColor": "#000000", "domainColor": "#d9d9d9", "domainWidth": 1.5, "ticks": false, "tickSize": 0, "grid": false, "labelFlush": false, "labelOverlap": false},
 "axisX": {"labelPadding": 22, "titlePadding": 10},
 "axisY": {"labelPadding": 21, "titlePadding": 7}
}
}
